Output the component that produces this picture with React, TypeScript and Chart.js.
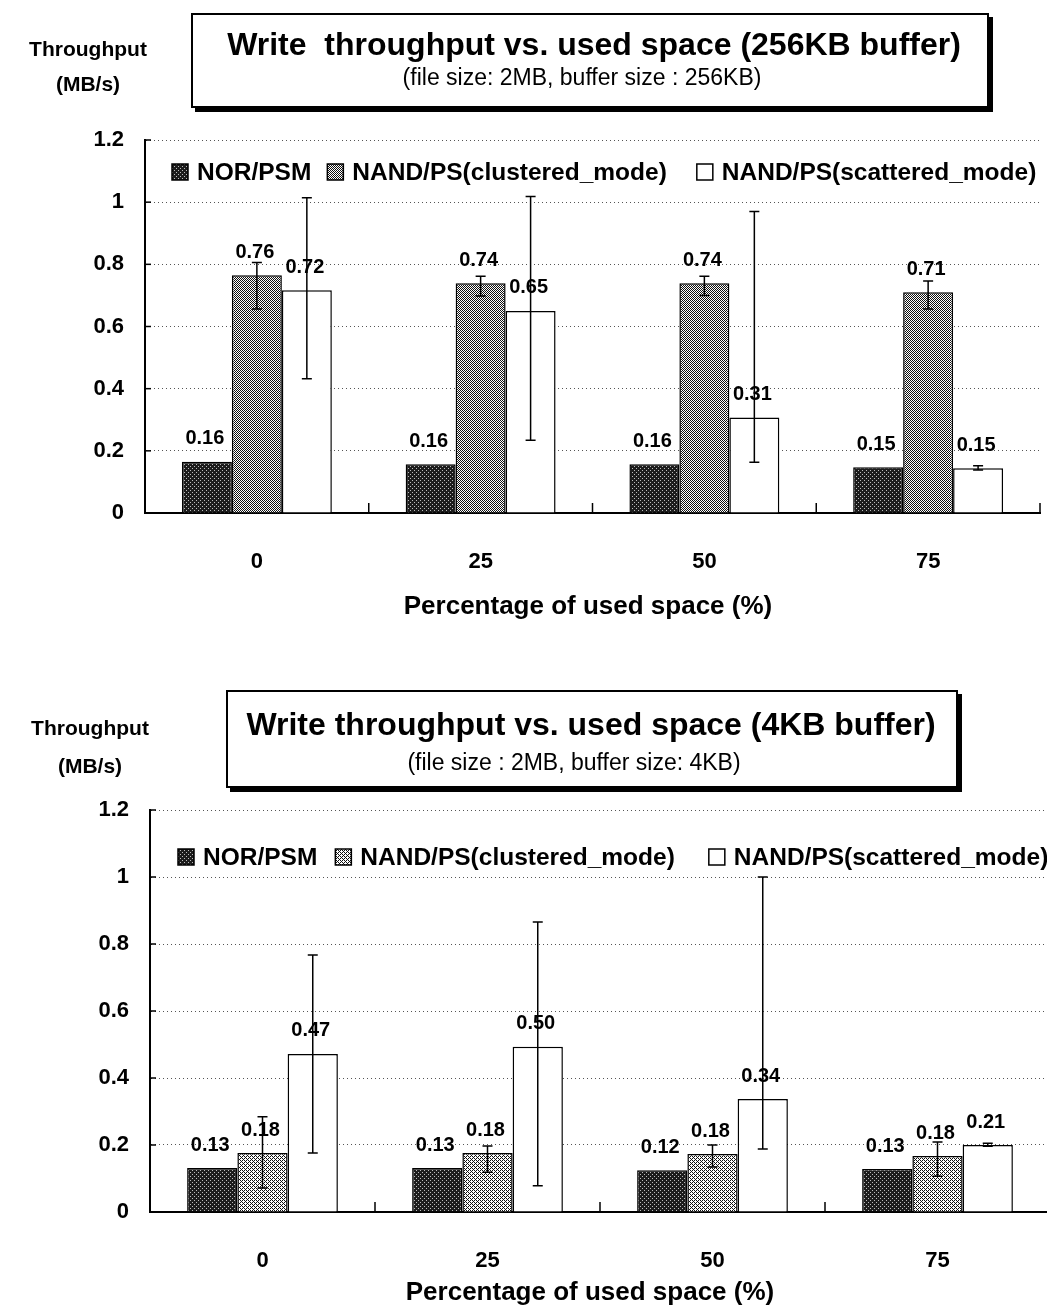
import React, { useEffect, useRef } from 'react';
import { Chart, registerables } from 'chart.js';

Chart.register(...registerables);

const FONT = "'Liberation Sans', Arial, Helvetica, sans-serif";

const CATEGORIES = ['0', '25', '50', '75'];
const SERIES = ['NOR/PSM', 'NAND/PS(clustered_mode)', 'NAND/PS(scattered_mode)'];
const Y_TICKS = [0, 0.2, 0.4, 0.6, 0.8, 1, 1.2];

// ---- Chart A: 256KB buffer ----
const A_NOR = [0.165, 0.157, 0.157, 0.147];
const A_CLU = [0.765, 0.739, 0.739, 0.71];
const A_SCA = [0.717, 0.65, 0.307, 0.144];
const A_NOR_LABELS = ['0.16', '0.16', '0.16', '0.15'];
const A_CLU_LABELS = ['0.76', '0.74', '0.74', '0.71'];
const A_SCA_LABELS = ['0.72', '0.65', '0.31', '0.15'];
const A_CLU_LOW = [0.656, 0.698, 0.7, 0.656];
const A_CLU_HIGH = [0.806, 0.762, 0.762, 0.746];
const A_SCA_LOW = [0.432, 0.234, 0.163, 0.138];
const A_SCA_HIGH = [1.014, 1.018, 0.97, 0.152];

// ---- Chart B: 4KB buffer ----
const B_NOR = [0.131, 0.131, 0.125, 0.128];
const B_CLU = [0.176, 0.176, 0.173, 0.167];
const B_SCA = [0.472, 0.493, 0.337, 0.2];
const B_NOR_LABELS = ['0.13', '0.13', '0.12', '0.13'];
const B_CLU_LABELS = ['0.18', '0.18', '0.18', '0.18'];
const B_SCA_LABELS = ['0.47', '0.50', '0.34', '0.21'];
const B_CLU_LOW = [0.072, 0.119, 0.134, 0.107];
const B_CLU_HIGH = [0.284, 0.197, 0.2, 0.209];
const B_SCA_LOW = [0.176, 0.078, 0.188, 0.196];
const B_SCA_HIGH = [0.767, 0.866, 1.0, 0.205];

function makePattern(kind: string): CanvasPattern | string {
  const c = document.createElement('canvas');
  c.width = 4;
  c.height = 4;
  const g = c.getContext('2d');
  if (!g) return '#888';
  if (kind === 'dark') {
    g.fillStyle = '#1c1c1c';
    g.fillRect(0, 0, 4, 4);
    g.fillStyle = '#bbbbbb';
    g.fillRect(0, 0, 1, 1);
    g.fillRect(2, 2, 1, 1);
  } else {
    g.fillStyle = '#ffffff';
    g.fillRect(0, 0, 4, 4);
    g.fillStyle = '#111111';
    for (let x = 0; x < 4; x++) {
      for (let y = 0; y < 4; y++) {
        if (kind === 'mid' && (x + y) % 2 === 0) g.fillRect(x, y, 1, 1);
        if (kind === 'light' && ((x + y) % 4 === 0 || (x + y) % 4 === 2) && !(x === 1 && y === 1) && !(x === 3 && y === 3)) g.fillRect(x, y, 1, 1);
      }
    }
  }
  const p = g.createPattern(c, 'repeat');
  return p || '#888';
}

type Cfg = {
  top: number;
  width: number;
  height: number;
  padTop: number;
  padRight: number;
  yAxisW: number;
  xAxisH: number;
  midKind: string;
  values: number[][];
  labels: string[][];
  errors: ({ low: number[]; high: number[] } | null)[];
  legendDx: number;
  legendDy: number;
  legendGaps: number[];
};

function makeDecor(cfg: Cfg, pats: (CanvasPattern | string)[]) {
  return {
    id: 'decor',
    afterDatasetsDraw(chart: any) {
      const ctx = chart.ctx as CanvasRenderingContext2D;
      const xs = chart.scales.x;
      const ys = chart.scales.y;
      const area = chart.chartArea;
      ctx.save();
      // category boundary tick marks (pointing up)
      ctx.strokeStyle = '#000';
      ctx.lineWidth = 1.5;
      const n = CATEGORIES.length;
      for (let i = 1; i <= n; i++) {
        const px = xs.left + (i * xs.width) / n;
        ctx.beginPath();
        ctx.moveTo(px, area.bottom);
        ctx.lineTo(px, area.bottom - 10);
        ctx.stroke();
      }
      // small inward ticks on the value axis
      ys.ticks.forEach((t: any) => {
        const py = ys.getPixelForValue(t.value);
        ctx.beginPath();
        ctx.moveTo(area.left, py);
        ctx.lineTo(area.left + 6, py);
        ctx.stroke();
      });
      // error bars
      cfg.errors.forEach((err, di) => {
        if (!err) return;
        const meta = chart.getDatasetMeta(di);
        meta.data.forEach((el: any, i: number) => {
          const lo = err.low[i];
          const hi = err.high[i];
          if (lo == null || hi == null) return;
          const yl = ys.getPixelForValue(lo);
          const yh = ys.getPixelForValue(hi);
          ctx.strokeStyle = '#000';
          ctx.lineWidth = 1.5;
          ctx.beginPath();
          ctx.moveTo(el.x, yl);
          ctx.lineTo(el.x, yh);
          ctx.moveTo(el.x - 5, yl);
          ctx.lineTo(el.x + 5, yl);
          ctx.moveTo(el.x - 5, yh);
          ctx.lineTo(el.x + 5, yh);
          ctx.stroke();
        });
      });
      // value labels
      ctx.fillStyle = '#000';
      ctx.font = `bold 20px ${FONT}`;
      ctx.textAlign = 'center';
      ctx.textBaseline = 'middle';
      cfg.labels.forEach((labs, di) => {
        const meta = chart.getDatasetMeta(di);
        meta.data.forEach((el: any, i: number) => {
          ctx.fillText(labs[i], el.x - 2, el.y - 23);
        });
      });
      // legend inside plot area
      let lx = area.left + cfg.legendDx;
      const ly = area.top + cfg.legendDy;
      ctx.font = `bold 24.5px ${FONT}`;
      ctx.textAlign = 'left';
      SERIES.forEach((name, i) => {
        ctx.fillStyle = pats[i] as any;
        ctx.fillRect(lx, ly - 8, 16, 16);
        ctx.strokeStyle = '#000';
        ctx.lineWidth = 1.5;
        ctx.strokeRect(lx, ly - 8, 16, 16);
        ctx.fillStyle = '#000';
        ctx.fillText(name, lx + 25, ly + 1);
        lx += 25 + ctx.measureText(name).width + (cfg.legendGaps[i] || 0);
      });
      ctx.restore();
    },
  };
}

function BarChart({ cfg }: { cfg: Cfg }) {
  const ref = useRef<HTMLCanvasElement>(null);
  useEffect(() => {
    const canvas = ref.current;
    if (!canvas) return;
    const pats = [makePattern('dark'), makePattern(cfg.midKind), '#ffffff'];
    const tickFont = { family: FONT, size: 22, weight: 'bold' as const };
    const chart = new Chart(canvas, {
      type: 'bar',
      data: {
        labels: CATEGORIES,
        datasets: SERIES.map((name, i) => ({
          label: name,
          data: cfg.values[i],
          backgroundColor: pats[i] as any,
          borderColor: '#000',
          borderWidth: 1.5,
          borderSkipped: 'start' as const,
          categoryPercentage: 0.67,
          barPercentage: 1,
        })),
      },
      options: {
        responsive: false,
        animation: false,
        devicePixelRatio: 1,
        layout: { padding: { left: 0, top: cfg.padTop, right: cfg.padRight, bottom: 0 } },
        plugins: { legend: { display: false }, tooltip: { enabled: false }, title: { display: false } },
        scales: {
          x: {
            type: 'category',
            offset: true,
            grid: { display: false },
            border: { display: true, color: '#000', width: 2 },
            ticks: { color: '#000', font: tickFont, padding: 28, maxRotation: 0 },
            afterFit: (s: any) => {
              s.height = cfg.xAxisH;
            },
          },
          y: {
            min: 0,
            max: 1.2,
            afterBuildTicks: (s: any) => {
              s.ticks = Y_TICKS.map((v) => ({ value: v }));
            },
            grid: { color: '#555', lineWidth: 1, drawTicks: false },
            border: { display: true, color: '#000', width: 2, dash: [1, 3] },
            ticks: {
              color: '#000',
              font: tickFont,
              padding: 21,
              callback: (v: any) => {
                const num = Number(v);
                return num === 0 || num === 1 ? String(num) : num.toFixed(1);
              },
            },
            afterFit: (s: any) => {
              s.width = cfg.yAxisW;
            },
          },
        },
      },
      plugins: [makeDecor(cfg, pats)],
    });
    return () => chart.destroy();
  }, []);
  return (
    <canvas
      ref={ref}
      width={cfg.width}
      height={cfg.height}
      style={{ position: 'absolute', left: 0, top: cfg.top, width: cfg.width, height: cfg.height }}
    />
  );
}

const CFG_A: Cfg = {
  top: 0,
  width: 1047,
  height: 650,
  padTop: 140,
  padRight: 7,
  yAxisW: 145,
  xAxisH: 137,
  midKind: 'mid',
  values: [A_NOR, A_CLU, A_SCA],
  labels: [A_NOR_LABELS, A_CLU_LABELS, A_SCA_LABELS],
  errors: [null, { low: A_CLU_LOW, high: A_CLU_HIGH }, { low: A_SCA_LOW, high: A_SCA_HIGH }],
  legendDx: 27,
  legendDy: 32,
  legendGaps: [16, 30],
};

const CFG_B: Cfg = {
  top: 650,
  width: 1060,
  height: 664,
  padTop: 160,
  padRight: 10,
  yAxisW: 150,
  xAxisH: 102,
  midKind: 'light',
  values: [B_NOR, B_CLU, B_SCA],
  labels: [B_NOR_LABELS, B_CLU_LABELS, B_SCA_LABELS],
  errors: [null, { low: B_CLU_LOW, high: B_CLU_HIGH }, { low: B_SCA_LOW, high: B_SCA_HIGH }],
  legendDx: 28,
  legendDy: 47,
  legendGaps: [18, 34],
};

function Txt({ x, y, size, bold, children }: { x: number; y: number; size: number; bold?: boolean; children: React.ReactNode }) {
  return (
    <div
      style={{
        position: 'absolute',
        left: x,
        top: y,
        transform: 'translate(-50%, -50%)',
        whiteSpace: 'pre',
        fontFamily: FONT,
        fontSize: size,
        fontWeight: bold ? 'bold' : 'normal',
        lineHeight: 1,
        color: '#000',
      }}
    >
      {children}
    </div>
  );
}

function Box({ left, top, right, bottom }: { left: number; top: number; right: number; bottom: number }) {
  return (
    <div
      style={{
        position: 'absolute',
        left,
        top,
        width: right - left,
        height: bottom - top,
        boxSizing: 'border-box',
        border: '2px solid #000',
        boxShadow: '4px 4px 0 #000',
        background: '#fff',
      }}
    />
  );
}

export default function App() {
  return (
    <div
      style={{
        position: 'absolute',
        left: 0,
        top: 0,
        width: 1047,
        height: 1314,
        overflow: 'hidden',
        background: '#fff',
      }}
    >
      <BarChart cfg={CFG_A} />
      <BarChart cfg={CFG_B} />

      <Box left={191} top={13} right={989} bottom={108} />
      <Txt x={594} y={44} size={32} bold>
        {'Write  throughput vs. used space (256KB buffer)'}
      </Txt>
      <Txt x={582} y={77} size={23}>
        {'(file size: 2MB, buffer size : 256KB)'}
      </Txt>
      <Txt x={88} y={48} size={21} bold>Throughput</Txt>
      <Txt x={88} y={83} size={21} bold>(MB/s)</Txt>
      <Txt x={588} y={605} size={26} bold>Percentage of used space (%)</Txt>

      <Box left={226} top={690} right={958} bottom={788} />
      <Txt x={591} y={724} size={32} bold>
        {'Write throughput vs. used space (4KB buffer)'}
      </Txt>
      <Txt x={574} y={762} size={23}>
        {'(file size : 2MB, buffer size: 4KB)'}
      </Txt>
      <Txt x={90} y={727} size={21} bold>Throughput</Txt>
      <Txt x={90} y={765} size={21} bold>(MB/s)</Txt>
      <Txt x={590} y={1291} size={26} bold>Percentage of used space (%)</Txt>
    </div>
  );
}
